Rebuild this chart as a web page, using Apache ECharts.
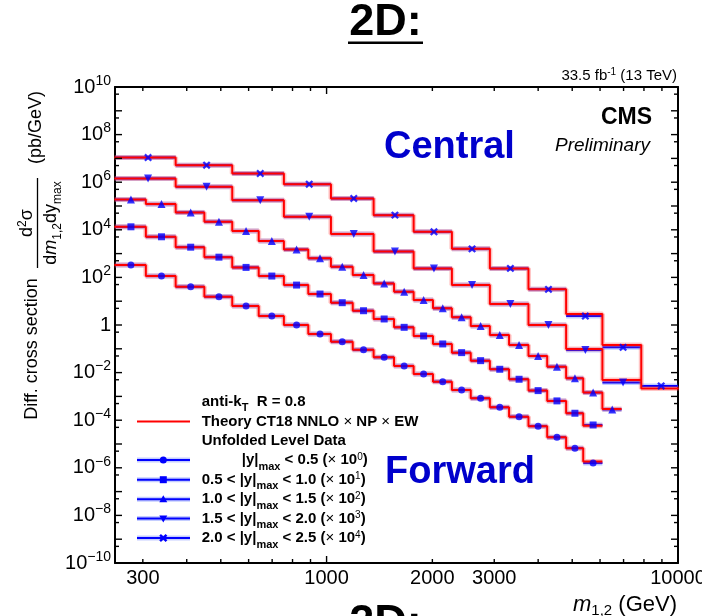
<!DOCTYPE html>
<html><head><meta charset="utf-8">
<script src="https://cdn.jsdelivr.net/npm/echarts@6/dist/echarts.min.js"></script>
<style>html,body{margin:0;padding:0;background:#fff}#c{width:702px;height:616px}</style>
</head><body><div id="c"></div>
<script>
const FONT = "'Liberation Sans', Arial, Helvetica, sans-serif";

// ---- data (dijet mass bin edges in GeV, cross sections in pb/GeV, unscaled) ----
const fineEdges = [249, 306, 372, 449, 539, 641, 756, 887, 1029, 1187, 1361, 1556, 1769, 2008, 2273, 2572, 2915, 3306, 3754, 4244, 4805, 5374, 6094, 6908];
const coarseEdges = [249, 372, 539, 756, 1029, 1361, 1769, 2273, 2915, 3754, 4805, 6094, 7861, 10050];

const theoryY0 = [331, 115, 40.7, 15.5, 6.31, 2.40, 1.00, 0.417, 0.200, 0.0912, 0.0437, 0.0191, 8.71e-3, 4.17e-3, 1.86e-3, 8.32e-4, 3.47e-4, 1.41e-4, 5.62e-5, 1.91e-5, 6.68e-6, 1.84e-6];
const dataY0   = [331, 115, 40.7, 15.5, 6.31, 2.40, 1.00, 0.417, 0.200, 0.0912, 0.0437, 0.0191, 8.71e-3, 4.17e-3, 1.86e-3, 8.32e-4, 3.47e-4, 1.41e-4, 5.62e-5, 1.91e-5, 6.68e-6, 1.58e-6];

const theoryY1 = [1337, 509, 186, 70.8, 26.3, 11.4, 4.76, 2.00, 0.865, 0.398, 0.179, 0.0798, 0.0346, 0.0160, 6.90e-3, 3.18e-3, 1.38e-3, 5.25e-4, 1.75e-4, 6.47e-5, 1.96e-5, 5.78e-6];
const dataY1   = [1337, 509, 186, 70.8, 26.3, 11.4, 4.76, 2.00, 0.865, 0.398, 0.179, 0.0798, 0.0346, 0.0160, 6.90e-3, 3.18e-3, 1.38e-3, 5.25e-4, 1.75e-4, 6.47e-5, 1.96e-5, 6.30e-6];

const theoryY2 = [1862, 1202, 537, 219, 89.1, 33.9, 14.8, 6.31, 2.82, 1.26, 0.560, 0.251, 0.112, 0.0500, 0.0210, 9.08e-3, 3.80e-3, 1.45e-3, 5.00e-4, 1.78e-4, 5.78e-5, 1.45e-5, 2.99e-6];
const dataY2   = [1862, 1202, 537, 219, 89.1, 33.9, 14.8, 6.31, 2.82, 1.26, 0.560, 0.251, 0.112, 0.0500, 0.0210, 9.08e-3, 3.80e-3, 1.45e-3, 5.00e-4, 1.78e-4, 5.78e-5, 1.45e-5, 2.82e-6];

const theoryY3 = [1429, 638, 176, 35.2, 6.59, 1.23, 0.239, 0.0478, 7.60e-3, 1.00e-3, 9.84e-5, 4.92e-6];
const dataY3   = [1429, 638, 176, 35.2, 6.59, 1.23, 0.239, 0.0478, 7.60e-3, 1.00e-3, 8.93e-5, 3.80e-6];

const theoryY4 = [1086, 518, 232, 82.6, 20.7, 4.13, 0.826, 0.158, 0.0239, 3.14e-3, 2.89e-4, 1.45e-5, 2.13e-7];
const dataY4   = [1086, 518, 232, 82.6, 20.7, 4.13, 0.826, 0.158, 0.0239, 3.14e-3, 2.38e-4, 1.15e-5, 2.75e-7];

const scaleFactors = [1, 10, 100, 1000, 10000];
const scaleExponents = [0, 1, 2, 3, 4];
const yLow  = [null, '0.5', '1.0', '1.5', '2.0'];
const yHigh = ['0.5', '1.0', '1.5', '2.0', '2.5'];

// ---- axis ticks / labels ----
const X_MIN = 250, X_MAX = 10000, Y_MIN = 1e-10, Y_MAX = 1e10;
const xTickLabels = [300, 1000, 2000, 3000, 10000];
const xMajorTicks = [1000, 10000];
const xMinorTicks = [300, 400, 500, 600, 700, 800, 900, 2000, 3000, 4000, 5000, 6000, 7000, 8000, 9000];
const yLabelValues = [1e-10, 1e-8, 1e-6, 1e-4, 1e-2, 1, 1e2, 1e4, 1e6, 1e8, 1e10];
const yDecadeTicks = [1e-10, 1e-9, 1e-8, 1e-7, 1e-6, 1e-5, 1e-4, 1e-3, 1e-2, 1e-1, 1, 1e1, 1e2, 1e3, 1e4, 1e5, 1e6, 1e7, 1e8, 1e9, 1e10];
const yHalfTicks = [5e-10, 5e-9, 5e-8, 5e-7, 5e-6, 5e-5, 5e-4, 5e-3, 5e-2, 5e-1, 5, 5e1, 5e2, 5e3, 5e4, 5e5, 5e6, 5e7, 5e8, 5e9];

// ---- styling of the five rapidity bins ----
const XPATH = 'path://M3,0L5,0L5,3L8,3L8,5L5,5L5,8L3,8L3,5L0,5L0,3L3,3Z';
const groups = [
  {edges: fineEdges,   theory: theoryY0, data: dataY0, symbol: 'circle',   size: 7, rot: 0},
  {edges: fineEdges,   theory: theoryY1, data: dataY1, symbol: 'rect',     size: 7, rot: 0},
  {edges: fineEdges,   theory: theoryY2, data: dataY2, symbol: 'triangle', size: 8, rot: 0},
  {edges: coarseEdges, theory: theoryY3, data: dataY3, symbol: 'triangle', size: 8, rot: 180},
  {edges: coarseEdges, theory: theoryY4, data: dataY4, symbol: XPATH,      size: 9, rot: 45}
];

const series = [];
groups.forEach((g, k) => {
  const sf = scaleFactors[k];
  const steps = [];
  const segs = [];
  const pts = [];
  g.theory.forEach((v, i) => {
    steps.push([g.edges[i], v * sf]);
    steps.push([g.edges[i + 1], v * sf]);
  });
  g.data.forEach((v, i) => {
    segs.push([g.edges[i], g.edges[i + 1], v * sf]);
    pts.push([(g.edges[i] + g.edges[i + 1]) / 2, v * sf]);
  });
  series.push({
    type: 'custom', name: 'data' + k, z: 2, clip: true,
    encode: {x: [0, 1], y: 2}, data: segs, silent: true,
    renderItem: (params, api) => {
      const p1 = api.coord([api.value(0), api.value(2)]);
      const p2 = api.coord([api.value(1), api.value(2)]);
      return {type: 'group', children: [
        {type: 'line', shape: {x1: p1[0], y1: p1[1], x2: p2[0], y2: p2[1]}, style: {stroke: 'rgba(60,90,255,0.3)', lineWidth: 5}},
        {type: 'line', shape: {x1: p1[0], y1: p1[1], x2: p2[0], y2: p2[1]}, style: {stroke: '#0000ff', lineWidth: 2}}
      ]};
    }
  });
  series.push({
    type: 'line', name: 'band' + k, z: 3, data: steps,
    symbol: 'none', silent: true, lineStyle: {color: 'rgba(255,60,60,0.3)', width: 5}
  });
  series.push({
    type: 'line', name: 'theory' + k, z: 4, data: steps,
    symbol: 'none', silent: true, lineStyle: {color: '#ff0000', width: 2}
  });
  series.push({
    type: 'scatter', name: 'pts' + k, z: 5, data: pts,
    symbol: g.symbol, symbolSize: g.size, symbolRotate: g.rot, silent: true,
    itemStyle: {color: '#0000ff'}
  });
});

// ---- tick marks on all four frame sides, placed through the axes' scales ----
const MAJ = 7, MIN = 4;
const xTickData = xMajorTicks.map(v => [v, MAJ]).concat(xMinorTicks.map(v => [v, MIN]));
const yTickData = yDecadeTicks.map(v => [v, MAJ]).concat(yHalfTicks.map(v => [v, MIN]));
series.push({
  type: 'custom', name: 'xticks', z: 10, clip: false, silent: true, data: xTickData,
  encode: {x: 0},
  renderItem: (params, api) => {
    const v = api.value(0), L = api.value(1);
    const b = api.coord([v, Y_MIN]);
    const t = api.coord([v, Y_MAX]);
    return {type: 'group', children: [
      {type: 'line', shape: {x1: b[0], y1: b[1], x2: b[0], y2: b[1] - L}, style: {stroke: '#000', lineWidth: 1.4}},
      {type: 'line', shape: {x1: t[0], y1: t[1], x2: t[0], y2: t[1] + L}, style: {stroke: '#000', lineWidth: 1.4}}
    ]};
  }
});
series.push({
  type: 'custom', name: 'yticks', z: 10, clip: false, silent: true, data: yTickData,
  encode: {y: 0},
  renderItem: (params, api) => {
    const v = api.value(0), L = api.value(1);
    const l = api.coord([X_MIN, v]);
    const r = api.coord([X_MAX, v]);
    return {type: 'group', children: [
      {type: 'line', shape: {x1: l[0], y1: l[1], x2: l[0] + L, y2: l[1]}, style: {stroke: '#000', lineWidth: 1.4}},
      {type: 'line', shape: {x1: r[0], y1: r[1], x2: r[0] - L, y2: r[1]}, style: {stroke: '#000', lineWidth: 1.4}}
    ]};
  }
});

// ---- axes ----
const xBase = {type: 'log', logBase: 10, min: X_MIN, max: X_MAX, splitLine: {show: false}, minorTick: {show: false}, minorSplitLine: {show: false}, axisTick: {show: false}};
const yBase = {type: 'log', logBase: 10, min: Y_MIN, max: Y_MAX, splitLine: {show: false}, minorTick: {show: false}, minorSplitLine: {show: false}, axisTick: {show: false}};
const lineOn = {show: true, onZero: false, lineStyle: {color: '#000', width: 2}};

const xAxis = [
  Object.assign({}, xBase, {position: 'bottom', axisLine: lineOn,
    axisLabel: {show: true, customValues: xTickLabels, showMinLabel: true, showMaxLabel: true,
      formatter: v => String(Math.round(v)), fontSize: 20, margin: 5, color: '#000', fontFamily: FONT}}),
  Object.assign({}, xBase, {position: 'top', axisLine: lineOn, axisLabel: {show: false}})
];
const yAxis = [
  Object.assign({}, yBase, {position: 'left', axisLine: lineOn,
    axisLabel: {show: true, customValues: yLabelValues, showMinLabel: true, showMaxLabel: true, margin: 4,
      formatter: v => {
        const e = Math.round(Math.log10(v));
        if (e === 0) return '{b|1}';
        return '{b|10}{s|' + (e < 0 ? '\u2212' + (-e) : String(e)) + '}';
      },
      rich: {
        b: {fontSize: 20, fontFamily: FONT, color: '#000', lineHeight: 26, verticalAlign: 'middle'},
        s: {fontSize: 14, fontFamily: FONT, color: '#000', lineHeight: 14, verticalAlign: 'top'}
      }}}),
  Object.assign({}, yBase, {position: 'right', axisLine: lineOn, axisLabel: {show: false}})
];
series.forEach(s => { s.xAxisIndex = 0; s.yAxisIndex = 0; });

// ---- texts / legend (graphic) ----
const graphic = [];
function txt(x, y, text, rich, opts) {
  const st = Object.assign({text: text, rich: rich || {}, fill: '#000', fontFamily: FONT, fontSize: 15,
    align: 'left', verticalAlign: 'middle'}, opts || {});
  const rot = st.rotation || 0;
  delete st.rotation;
  st.textAlign = st.align;
  st.textVerticalAlign = st.verticalAlign;
  graphic.push({type: 'text', x: x, y: y, rotation: rot, silent: true, z: 100, style: st});
}
// title
txt(385.5, 23, '2D:', null, {fontSize: 45, fontWeight: 'bold', align: 'center'});
graphic.push({type: 'rect', shape: {x: 348, y: 41.5, width: 75, height: 2.6}, style: {fill: '#000'}, silent: true});
txt(385.5, 624, '2D:', null, {fontSize: 45, fontWeight: 'bold', align: 'center'});
// lumi
txt(677, 76, '{n|33.5 fb}{s|-1}{n| (13 TeV)}', {
  n: {fontSize: 15, fontFamily: FONT, fill: '#000', lineHeight: 20},
  s: {fontSize: 10, fontFamily: FONT, fill: '#000', lineHeight: 10, verticalAlign: 'top', padding: [1, 0, 0, 0]}
}, {align: 'right'});
txt(652, 117.5, 'CMS', null, {fontSize: 23, fontWeight: 'bold', align: 'right'});
txt(650, 145.5, 'Preliminary', null, {fontSize: 19, fontStyle: 'italic', align: 'right'});
txt(384, 148, 'Central', null, {fontSize: 38, fontWeight: 'bold', fill: '#0000cc'});
txt(385, 473, 'Forward', null, {fontSize: 38, fontWeight: 'bold', fill: '#0000cc'});

// x axis title
txt(677, 605, '{i|m}{s|1,2}{n| (GeV)}', {
  i: {fontSize: 22, fontFamily: FONT, fontStyle: 'italic', fill: '#000', lineHeight: 26},
  s: {fontSize: 15, fontFamily: FONT, fill: '#000', lineHeight: 15, verticalAlign: 'bottom'},
  n: {fontSize: 22, fontFamily: FONT, fill: '#000', lineHeight: 26}
}, {align: 'right'});

// y axis title (rotated)
const R = Math.PI / 2;
txt(32, 349, 'Diff. cross section', null, {fontSize: 18, align: 'center', rotation: R});
txt(27, 223, '{n|d}{p|2}{n|\u03c3}', {
  n: {fontSize: 18, fontFamily: FONT, fill: '#000', lineHeight: 24},
  p: {fontSize: 12, fontFamily: FONT, fill: '#000', lineHeight: 12, verticalAlign: 'top', padding: [2, 0, 0, 0]}
}, {align: 'center', rotation: R});
graphic.push({type: 'line', shape: {x1: 37.5, y1: 178, x2: 37.5, y2: 268}, style: {stroke: '#000', lineWidth: 1.3}, silent: true});
txt(51, 223, '{n|d}{i|m}{s|1,2}{n|dy}{s|max}', {
  n: {fontSize: 18, fontFamily: FONT, fill: '#000', lineHeight: 26},
  i: {fontSize: 18, fontFamily: FONT, fontStyle: 'italic', fill: '#000', lineHeight: 26},
  s: {fontSize: 12, fontFamily: FONT, fill: '#000', lineHeight: 12, verticalAlign: 'bottom'}
}, {align: 'center', rotation: R});
txt(36, 127.5, '(pb/GeV)', null, {fontSize: 18, align: 'center', rotation: R});

// legend
const LR = {
  b: {fontSize: 15, fontFamily: FONT, fontWeight: 'bold', fill: '#000', lineHeight: 24},
  x: {fontSize: 15, fontFamily: FONT, fill: '#000', lineHeight: 24},
  s: {fontSize: 11, fontFamily: FONT, fontWeight: 'bold', fill: '#000', lineHeight: 11, verticalAlign: 'bottom'},
  p: {fontSize: 10, fontFamily: FONT, fill: '#000', lineHeight: 10, verticalAlign: 'top', padding: [4, 0, 0, 0]}
};
const legX = 201.7;
const rowY = [401.5, 421.5, 440.7, 460, 479.7, 499.2, 518.5, 538];
txt(legX, rowY[0], '{b|anti-k}{s|T}{b|  R = 0.8}', LR);
graphic.push({type: 'line', shape: {x1: 137, y1: rowY[1], x2: 190, y2: rowY[1]}, style: {stroke: '#ff0000', lineWidth: 2}, silent: true});
txt(legX, rowY[1], '{b|Theory CT18 NNLO }{x|\u00d7}{b| NP }{x|\u00d7}{b| EW}', LR);
txt(legX, rowY[2], '{b|Unfolded Level Data}', LR);
const markerX = 163.3;
const plusPts = [[-1.2,-4.5],[1.2,-4.5],[1.2,-1.2],[4.5,-1.2],[4.5,1.2],[1.2,1.2],[1.2,4.5],[-1.2,4.5],[-1.2,1.2],[-4.5,1.2],[-4.5,-1.2],[-1.2,-1.2]];
groups.forEach((g, k) => {
  const yy = rowY[3 + k];
  graphic.push({type: 'line', shape: {x1: 137, y1: yy, x2: 190, y2: yy}, style: {stroke: 'rgba(60,90,255,0.3)', lineWidth: 5}, silent: true});
  graphic.push({type: 'line', shape: {x1: 137, y1: yy, x2: 190, y2: yy}, style: {stroke: '#0000ff', lineWidth: 2}, silent: true});
  let m;
  if (k === 0) m = {type: 'circle', shape: {cx: markerX, cy: yy, r: 3.5}};
  else if (k === 1) m = {type: 'rect', shape: {x: markerX - 3.5, y: yy - 3.5, width: 7, height: 7}};
  else if (k === 2) m = {type: 'polygon', shape: {points: [[markerX, yy - 4], [markerX + 4, yy + 3], [markerX - 4, yy + 3]]}};
  else if (k === 3) m = {type: 'polygon', shape: {points: [[markerX, yy + 4], [markerX + 4, yy - 3], [markerX - 4, yy - 3]]}};
  else m = {type: 'polygon', shape: {points: plusPts.map(p => [markerX + (p[0] - p[1]) * Math.SQRT1_2, yy + (p[0] + p[1]) * Math.SQRT1_2])}};
  m.style = {fill: '#0000ff'};
  m.silent = true;
  graphic.push(m);
  const lo = yLow[k] ? '{b|' + yLow[k] + ' < |y|}' : '{b||y|}';
  const label = lo + '{s|max}{b| < ' + yHigh[k] + ' (}{x|\u00d7}{b| 10}{p|' + scaleExponents[k] + '}{b|)}';
  txt(yLow[k] ? legX : 241.7, yy, label, LR);
});

const chart = echarts.init(document.getElementById('c'), null, {renderer: 'canvas'});
chart.setOption({
  animation: false,
  backgroundColor: '#fff',
  grid: {left: 115, right: 24, top: 87, bottom: 53, containLabel: false, outerBoundsMode: 'none'},
  xAxis: xAxis,
  yAxis: yAxis,
  series: series,
  graphic: graphic
});
</script>
</body></html>
